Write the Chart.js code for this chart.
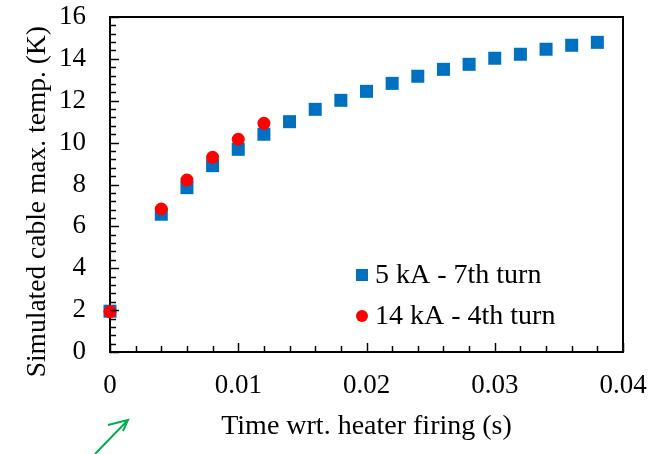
<!DOCTYPE html>
<html>
<head>
<meta charset="utf-8">
<script src="https://cdn.jsdelivr.net/npm/chart.js@4"></script>
<style>
  html, body { margin: 0; padding: 0; background: #fff; }
  #chart { display: block; }
</style>
</head>
<body>
<canvas id="chart" width="661" height="454"></canvas>
<script>
// Data
const times5kA = [0, 0.004, 0.006, 0.008, 0.010, 0.012, 0.014, 0.016, 0.018, 0.020,
                  0.022, 0.024, 0.026, 0.028, 0.030, 0.032, 0.034, 0.036, 0.038];
const temps5kA = [1.95, 6.58, 7.85, 8.90, 9.68, 10.40, 11.0, 11.59, 12.02, 12.45,
                  12.83, 13.17, 13.50, 13.74, 14.03, 14.22, 14.46, 14.65, 14.79];
const times14kA = [0, 0.004, 0.006, 0.008, 0.010, 0.012];
const temps14kA = [1.93, 6.83, 8.21, 9.30, 10.16, 10.92];

const seriesLabels = ["5 kA - 7th turn", "14 kA - 4th turn"];
const xTitle = "Time wrt. heater firing (s)";
const yTitle = "Simulated cable max. temp. (K)";

const FONT = "'Liberation Serif', 'Times New Roman', serif";
const BLUE = "#0070C0";
const RED = "#FF0000";

const toPoints = (xs, ys) => xs.map((x, i) => ({ x: x, y: ys[i] }));

// Inward ticks, top/right frame, legend and the green arrow
const decorPlugin = {
    id: "decor",
    afterDraw(chart) {
        const ctx = chart.ctx;
        const area = chart.chartArea;
        const xs = chart.scales.x;
        const ys = chart.scales.y;
        ctx.save();
        ctx.strokeStyle = "#000";
        ctx.lineWidth = 2;

        // frame (top + right)
        ctx.beginPath();
        ctx.moveTo(area.left, area.top);
        ctx.lineTo(area.right, area.top);
        ctx.lineTo(area.right, area.bottom);
        ctx.stroke();

        // y ticks, pointing inward
        ctx.lineWidth = 1.5;
        for (let k = 0; k <= 40; k++) {
            const v = k * 0.4;
            const py = Math.round(ys.getPixelForValue(v)) + 0.5;
            const len = (k % 5 === 0) ? 9 : 6;
            ctx.beginPath();
            ctx.moveTo(area.left, py);
            ctx.lineTo(area.left + len, py);
            ctx.stroke();
        }
        // x ticks, pointing inward
        for (let k = 0; k <= 20; k++) {
            const v = k * 0.002;
            const px = Math.round(xs.getPixelForValue(v)) + 0.5;
            const len = (k % 5 === 0) ? 9 : 6;
            ctx.beginPath();
            ctx.moveTo(px, area.bottom);
            ctx.lineTo(px, area.bottom - len);
            ctx.stroke();
        }

        // legend
        const rows = [{ y: 275, ds: 0 }, { y: 316, ds: 1 }];
        ctx.font = "28px " + FONT;
        ctx.textBaseline = "middle";
        ctx.textAlign = "left";
        rows.forEach(r => {
            const ds = chart.data.datasets[r.ds];
            ctx.fillStyle = ds.backgroundColor;
            if (ds.pointStyle === "rect") {
                ctx.fillRect(356, r.y - 6, 12, 12);
            } else {
                ctx.beginPath();
                ctx.arc(362, r.y, 6, 0, Math.PI * 2);
                ctx.fill();
            }
            ctx.fillStyle = "#000";
            ctx.fillText(ds.label, 375, r.y + 1);
        });

        // green arrow annotation
        ctx.strokeStyle = "#00B050";
        ctx.lineWidth = 2;
        ctx.beginPath();
        ctx.moveTo(95, 454);
        ctx.lineTo(128, 420);
        ctx.moveTo(108, 425);
        ctx.lineTo(128, 420);
        ctx.lineTo(123, 431);
        ctx.stroke();
        ctx.restore();
    }
};

new Chart(document.getElementById("chart"), {
    type: "scatter",
    data: {
        datasets: [
            {
                label: seriesLabels[0],
                data: toPoints(times5kA, temps5kA),
                pointStyle: "rect",
                pointRadius: 9.2,
                pointHoverRadius: 9.2,
                backgroundColor: BLUE,
                borderColor: BLUE,
                borderWidth: 0,
                order: 1,
                clip: false
            },
            {
                label: seriesLabels[1],
                data: toPoints(times14kA, temps14kA),
                pointStyle: "circle",
                pointRadius: 6.5,
                pointHoverRadius: 6.5,
                backgroundColor: RED,
                borderColor: RED,
                borderWidth: 0,
                order: 0,
                clip: false
            }
        ]
    },
    options: {
        responsive: false,
        animation: false,
        devicePixelRatio: 1,
        layout: { padding: { top: 17, right: 38, left: 0, bottom: 0 } },
        plugins: {
            legend: { display: false },
            tooltip: { enabled: false }
        },
        scales: {
            x: {
                type: "linear",
                min: 0,
                max: 0.04,
                ticks: {
                    stepSize: 0.01,
                    color: "#000",
                    padding: 18,
                    font: { family: FONT, size: 27 },
                    callback: v => String(Number(v.toFixed(3)))
                },
                grid: { display: false, drawTicks: false },
                border: { display: true, color: "#000", width: 2 },
                title: {
                    display: true,
                    text: xTitle,
                    color: "#000",
                    font: { family: FONT, size: 28 },
                    padding: { top: 0, bottom: 11 }
                },
                afterFit: s => {
                    s.height = 102;
                    s.paddingLeft = 0;
                    s.paddingRight = 0;
                }
            },
            y: {
                type: "linear",
                min: 0,
                max: 16,
                ticks: {
                    stepSize: 2,
                    color: "#000",
                    padding: 24,
                    font: { family: FONT, size: 27 }
                },
                grid: { display: false, drawTicks: false },
                border: { display: true, color: "#000", width: 2 },
                title: {
                    display: true,
                    text: yTitle + "     ",
                    color: "#000",
                    font: { family: FONT, size: 27.5 },
                    padding: { top: 21, bottom: 0 }
                },
                afterFit: s => {
                    s.width = 110;
                    s.paddingTop = 0;
                    s.paddingBottom = 0;
                }
            }
        }
    },
    plugins: [decorPlugin]
});
</script>
</body>
</html>
